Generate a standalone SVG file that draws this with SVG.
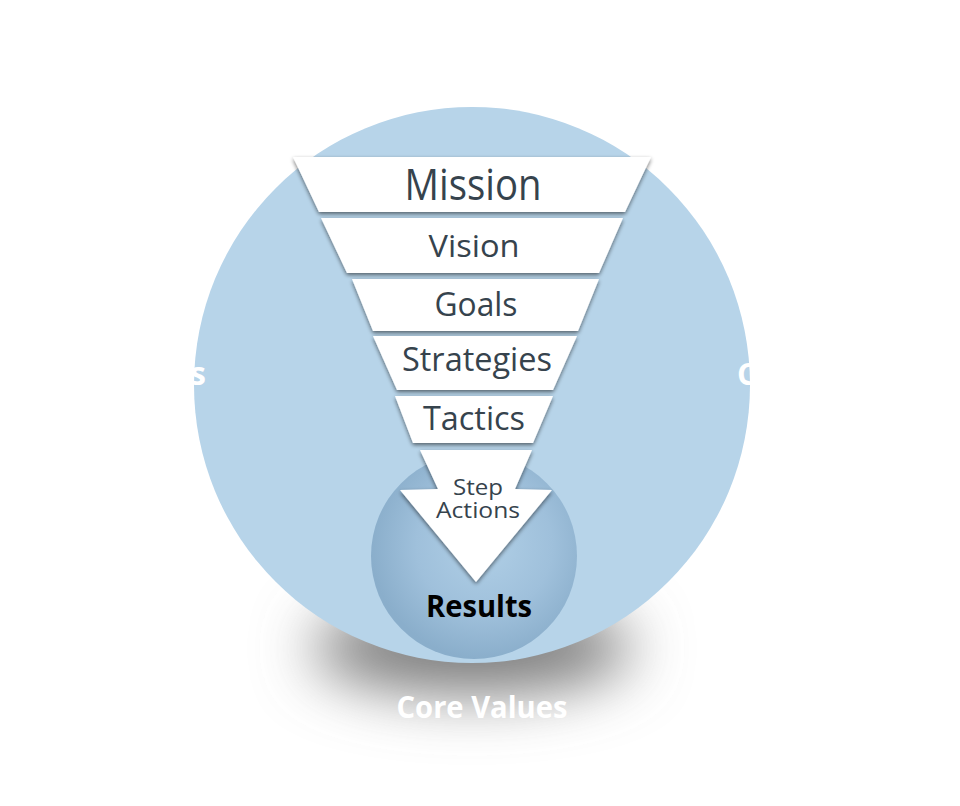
<svg xmlns="http://www.w3.org/2000/svg" width="960" height="806" viewBox="0 0 960 806">
  <defs>
    <filter id="bigShadow" filterUnits="userSpaceOnUse" x="150" y="450" width="650" height="356">
      <feGaussianBlur stdDeviation="30"/>
    </filter>
    <filter id="bandShadow" x="-10%" y="-20%" width="120%" height="160%">
      <feGaussianBlur in="SourceAlpha" stdDeviation="2"/>
      <feOffset dy="2" result="b"/>
      <feComponentTransfer><feFuncA type="linear" slope="0.55"/></feComponentTransfer>
      <feMerge><feMergeNode/><feMergeNode in="SourceGraphic"/></feMerge>
    </filter>
    <radialGradient id="innerGrad" cx="0.55" cy="0.45" r="0.55">
      <stop offset="0" stop-color="#b0cfe6"/>
      <stop offset="0.6" stop-color="#9fc0db"/>
      <stop offset="1" stop-color="#8aaecb"/>
    </radialGradient>
  </defs>
  <style>
    .band { fill: #ffffff; filter: url(#bandShadow); }
    .lbl { font-family: "Open Sans", "Noto Sans", sans-serif; fill: #36434d; text-anchor: middle; }
    .wlbl { font-family: "Open Sans", "Noto Sans", sans-serif; font-weight: 700; fill: #ffffff; }
  </style>
  <rect width="960" height="806" fill="#ffffff"/>

  <g id="shadow">
    <ellipse cx="472" cy="648" rx="160" ry="46" fill="#7a7a7a" filter="url(#bigShadow)"/>
  </g>

  <g id="outer-circle">
    <circle cx="472" cy="385" r="278" fill="#b7d4e9"/>
    <text class="wlbl" x="206" y="385" font-size="32" text-anchor="end">s</text>
    <text class="wlbl" x="737" y="385" font-size="31">C</text>
  </g>

  <g id="core-values">
    <text class="wlbl" x="482" y="718" font-size="30" text-anchor="middle" textLength="171" lengthAdjust="spacingAndGlyphs">Core Values</text>
  </g>

  <g id="results">
    <circle cx="474" cy="556" r="103" fill="url(#innerGrad)"/>
  </g>

  <g id="connectors"></g>

  <g id="mission">
    <polygon class="band" points="293,157 651,157 625,212 319,212"/>
    <text class="lbl" x="473" y="200" font-size="44" textLength="137" lengthAdjust="spacingAndGlyphs">Mission</text>
  </g>
  <g id="vision">
    <polygon class="band" points="321,218 623,218 599,273 347,273"/>
    <text class="lbl" x="474" y="257" font-size="31" textLength="91" lengthAdjust="spacingAndGlyphs">Vision</text>
  </g>
  <g id="goals">
    <polygon class="band" points="352,279 599,279 578,331 373,331"/>
    <text class="lbl" x="476" y="316" font-size="32" textLength="83" lengthAdjust="spacingAndGlyphs">Goals</text>
  </g>
  <g id="strategies">
    <polygon class="band" points="373,336 577,336 553,390 397,390"/>
    <text class="lbl" x="477" y="371" font-size="32" textLength="150" lengthAdjust="spacingAndGlyphs">Strategies</text>
  </g>
  <g id="tactics">
    <polygon class="band" points="395,396 553,396 533,443 413,443"/>
    <text class="lbl" x="474" y="430" font-size="32" textLength="102" lengthAdjust="spacingAndGlyphs">Tactics</text>
  </g>
  <g id="step-actions">
    <polygon class="band" points="420,450 532,450 515,489 552,490 476,582 400,490 438,489"/>
    <text class="lbl" font-size="22"><tspan x="478" y="495" textLength="50" lengthAdjust="spacingAndGlyphs">Step</tspan><tspan x="478" y="518" textLength="84" lengthAdjust="spacingAndGlyphs">Actions</tspan></text>
  </g>
  <g id="results-label">
    <text x="479" y="617" font-family="'Open Sans', 'Noto Sans', sans-serif" font-weight="700" font-size="30" fill="#000000" text-anchor="middle" textLength="106" lengthAdjust="spacingAndGlyphs">Results</text>
  </g>
</svg>
